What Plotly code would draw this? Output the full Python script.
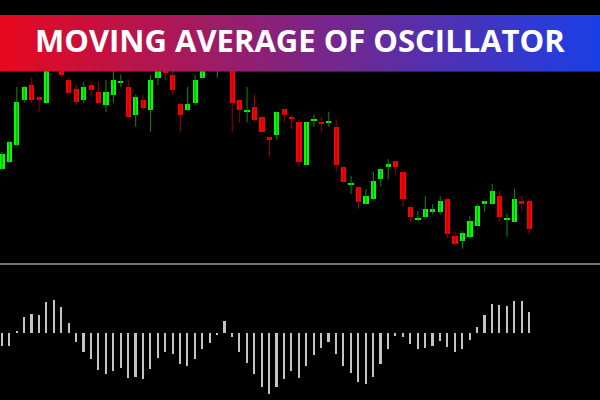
import numpy as np
import plotly.graph_objects as go

# ---------------- data ----------------
opens = [131, 138, 155, 200, 215.3, 203, 197.3, 236, 234, 220,
         210.7, 200, 215.3, 208, 195, 205, 217, 213, 185, 200,
         190, 222.3, 232, 225.3, 196, 190, 197.3, 222.3, 236, 230,
         240, 236, 200, 188.3, 193, 183, 163, 165, 190.7, 182.7,
         178, 135.3, 179.5, 178, 177, 173.3, 133.3, 115, 113.3, 96,
         100.7, 120.7, 133.3, 138.7, 128.3, 93.3, 80.8, 83.3, 88.3, 88.3,
         101, 64, 59, 63.3, 74, 96, 96, 104, 80.8, 78.3,
         98.7, 98.7]
highs = [148.3, 159, 213, 214, 222.7, 203.5, 240, 246, 238, 222.7,
         215, 218, 218, 218, 220, 230, 225.3, 220.7, 205.3, 205.3,
         225.3, 236, 235, 230, 196.5, 213, 225.3, 238, 246, 244,
         252, 240, 200.5, 213, 205.3, 185.3, 163.5, 188.5, 191, 185,
         180.7, 178.5, 185.7, 183, 188.3, 180.7, 134, 124, 113.8, 111,
         128.3, 131.3, 141, 139.2, 128.8, 93.8, 89, 104, 96, 104,
         101.5, 68.7, 68.7, 83.7, 96, 99, 116, 109, 86, 111.3,
         104, 101]
lows = [130.5, 137, 153.3, 197.3, 197.3, 188.3, 196, 233, 222.7, 207,
        195, 197.3, 203, 197, 188, 197.3, 212.7, 182.5, 173.3, 190,
        168.3, 215, 220, 205, 168.3, 189.5, 195, 222, 232, 222.3,
        234, 168.3, 177.7, 177.7, 177.7, 167.5, 143.3, 160, 177.7, 170.7,
        133.3, 134.8, 173.3, 168.3, 173.3, 128.3, 117, 106, 91.3, 95.5,
        100.2, 113.3, 120.7, 126, 93.3, 78.3, 78.3, 82.8, 86, 86,
        61.7, 54, 51.3, 61, 73.5, 88.3, 95.5, 78.7, 63.3, 78,
        88.3, 66.3]
closes = [146, 158, 198, 213, 200, 200, 235, 242, 225, 207.3,
          197.7, 213, 210, 197.3, 208, 220, 218.5, 182.7, 203, 192.3,
          220, 232, 227.3, 210, 185, 196, 220, 234, 242, 240,
          248, 197.3, 190, 190, 180, 168, 160.3, 188.3, 185, 180.7,
          138.3, 178, 181, 175.7, 178.5, 135.3, 118.3, 116.5, 98.3, 104,
          118.7, 131, 135.7, 133, 100.7, 83.3, 82.3, 91, 91, 98.7,
          66.3, 56.3, 66.7, 79, 94, 98.7, 109, 83.3, 82.3, 101,
          96, 71]

osma = [-12.7, -12.7, 1.7, 16, 19, 18, 30.7, 33.3, 26, 9.7,
        -9.3, -18.7, -25.7, -37, -41, -37.7, -35.3, -44.7, -43.7, -45.7,
        -36, -24.7, -18.7, -21, -30.7, -32.7, -26, -16, -10.3, -1.2,
        12, -4.3, -18.7, -30.3, -41.3, -53.7, -61.3, -54.3, -46.3, -37.7,
        -44.7, -33, -22, -15.3, -9.3, -20.7, -32.7, -40, -48.7, -51.3,
        -44, -30.7, -16, -3, -4.3, -10.7, -15.7, -14.7, -12.7, -8,
        -14, -18.7, -15.7, -7, 6.3, 17.7, 29.3, 28.3, 27, 32.3,
        32.3, 21]

title_text = "MOVING AVERAGE OF OSCILLATOR"

# ---------------- build ----------------
o = np.array(opens); h = np.array(highs); l = np.array(lows); c = np.array(closes)
idx = np.arange(len(o))
up = c >= o
dn = ~up

GREEN = "#00ff00"; RED = "#ff0000"
GREEN_W = "#0d8c0d"; RED_W = "#9c0000"

def wick_xy(mask):
    xs, ys = [], []
    for i in idx[mask]:
        xs += [i, i, None]
        ys += [l[i], h[i], None]
    return xs, ys

fig = go.Figure()
for mask, wc in ((up, GREEN_W), (dn, RED_W)):
    wx, wy = wick_xy(mask)
    fig.add_trace(go.Scatter(x=wx, y=wy, mode="lines", line=dict(color=wc, width=1),
                             hoverinfo="skip", showlegend=False))

for mask, bc in ((up, GREEN), (dn, RED)):
    base = np.minimum(o, c)[mask]
    hgt = np.maximum(np.abs(c - o)[mask], 1.2)
    fig.add_trace(go.Bar(x=idx[mask], y=hgt, base=base, width=0.7,
                         marker=dict(color=bc, line=dict(width=0)),
                         showlegend=False))

fig.add_trace(go.Bar(x=idx, y=osma, width=0.22, marker=dict(color="#c4c4c4", line=dict(width=0)),
                     xaxis="x2", yaxis="y2", showlegend=False))

sp = 7.427
x_rng = [-2 / sp, (600 - 2) / sp]

shapes = []
# separator line
shapes.append(dict(type="line", xref="paper", yref="paper", x0=0, x1=1,
                   y0=(400 - 264) / 400, y1=(400 - 264) / 400,
                   line=dict(color="#9a9a9a", width=1.5), layer="above"))
# gradient banner
c0 = np.array([232, 8, 30]); c1 = np.array([26, 64, 232])
N = 150
y0b = (400 - 71.5) / 400; y1b = (400 - 15) / 400
for k in range(N):
    t = (k + 0.5) / N
    col = c0 + (c1 - c0) * t
    shapes.append(dict(type="rect", xref="paper", yref="paper",
                       x0=k / N, x1=(k + 1) / N + 0.002, y0=y0b, y1=y1b,
                       fillcolor="rgb(%d,%d,%d)" % tuple(col.astype(int)),
                       line=dict(width=0), layer="above"))

fig.update_layout(
    width=600, height=400,
    margin=dict(l=0, r=0, t=0, b=0),
    paper_bgcolor="black", plot_bgcolor="black",
    barmode="overlay", bargap=0,
    showlegend=False,
    xaxis=dict(range=x_rng, visible=False, showgrid=False, zeroline=False, anchor="y"),
    yaxis=dict(range=[36, 300], domain=[(400 - 264) / 400, 1], visible=False,
               showgrid=False, zeroline=False),
    xaxis2=dict(range=x_rng, visible=False, showgrid=False, zeroline=False, anchor="y2"),
    yaxis2=dict(range=[-67, 67], domain=[0, (400 - 266) / 400], visible=False,
                showgrid=False, zeroline=False),
    shapes=shapes,
    annotations=[dict(text=title_text, xref="paper", yref="paper", x=0.5,
                      y=(400 - 39.5) / 400, xanchor="center", yanchor="middle",
                      showarrow=False,
                      font=dict(family="Open Sans", size=31, color="white", weight=700))],
)

fig.write_html("out.html", config={"displayModeBar": False},
               post_script="document.body.style.margin='0';document.body.style.background='black';")
